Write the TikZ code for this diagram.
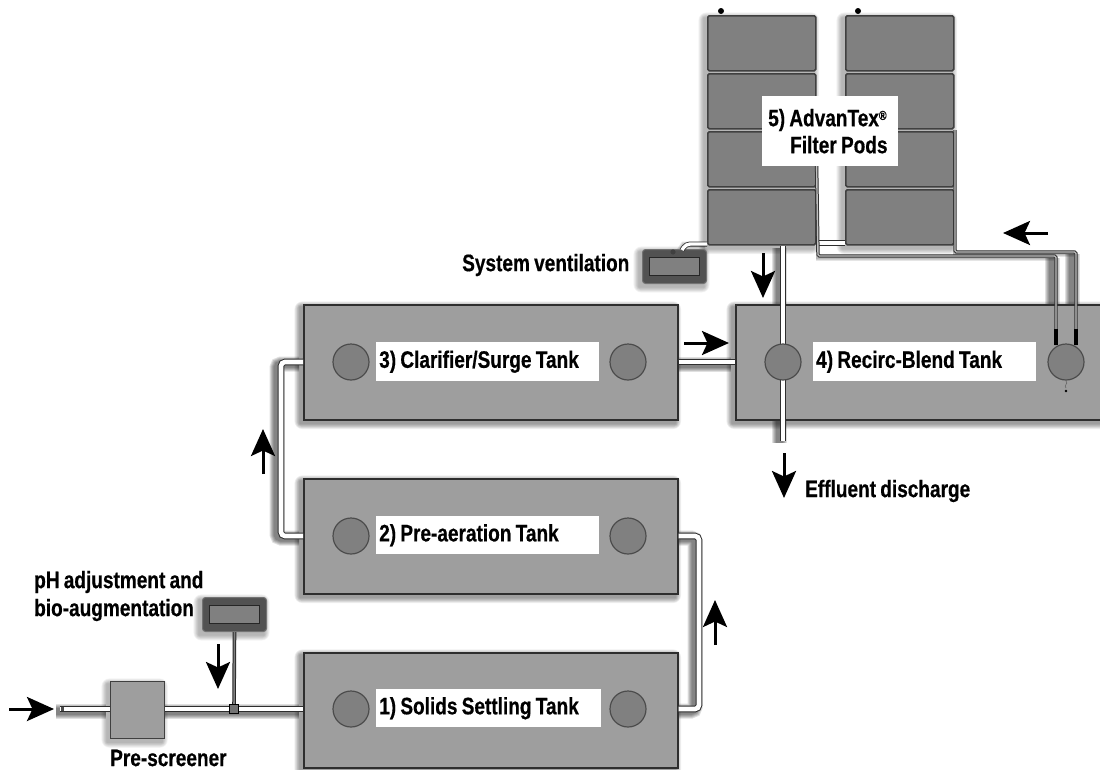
\documentclass[tikz,border=0pt]{standalone}
\usepackage{fontspec}
\setmainfont[FakeStretch=0.8,WordSpace=0.8,BoldFeatures={FakeBold=0.5}]{Liberation Sans}
\usetikzlibrary{calc,arrows.meta}
\pgfdeclarelayer{background}
\pgfsetlayers{background,main}
\definecolor{tankgray}{HTML}{9E9E9E}
\definecolor{darkgray2}{HTML}{808080}
\definecolor{edge}{HTML}{2E2E2E}
\tikzset{
  tank/.style={draw=edge,line width=1.5pt,fill=tankgray,minimum height=115pt,inner sep=0pt,anchor=north west},
  port/.style={circle,draw=black!70,line width=1.2pt,fill=darkgray2,minimum size=36pt,inner sep=0pt},
  tag/.style={fill=white,inner sep=0pt,inner xsep=3pt,align=flush left,font=\bfseries\fontsize{23.8}{27}\selectfont,anchor=north west},
  caption/.style={inner sep=0pt,align=left,font=\bfseries\fontsize{23.8}{28}\selectfont,anchor=west},
  pod/.style={draw=black!75,line width=1.6pt,fill=darkgray2,rounded corners=1.5pt,minimum width=108pt,minimum height=55pt,inner sep=0pt,anchor=north west},
  pipe/.style={draw=edge,line width=1pt,double=white,double distance=4.6pt,rounded corners=4pt},
  thinpipe/.style={draw=black!80,line width=1pt,double=black!25,double distance=1.4pt,rounded corners=1.5pt},
  darkpipe/.style={draw=black!85,line width=1pt,double=black!50,double distance=1.6pt},
  flow/.style={line width=3pt,black,-{Stealth[length=27pt,width=24pt,inset=5.5pt]}},
  panelout/.style={draw=black!55,line width=1pt,fill=black!68,rounded corners=3pt,minimum width=64pt,minimum height=34pt,inner sep=0pt,anchor=north west},
  panelin/.style={draw=black!85,line width=.8pt,fill=darkgray2,minimum width=50pt,minimum height=18pt,inner sep=0pt},
  plainbox/.style={draw=black!75,line width=1.2pt,fill=tankgray,minimum width=54pt,minimum height=57pt,inner sep=0pt,anchor=north west},
}
\newcommand{\softshadow}[3][.055]{%
  \begin{pgfonlayer}{background}
    \foreach \k in {1,...,8}{
      \fill[black,opacity=#1,rounded corners=\k pt]
        ($(#2)+(-3-\k*.7,3-\k*.7)$) rectangle ($(#3)+(-3+\k*.7,3+\k*.7)$);
    }
  \end{pgfonlayer}}
\newcommand{\pipeshadow}[1]{%
  \begin{pgfonlayer}{background}
    \foreach \k in {7,9,...,15}{
      \draw[black,opacity=.12,line width=\k pt,rounded corners=4pt,transform canvas={xshift=-4pt,yshift=-2pt}] #1;
    }
  \end{pgfonlayer}}
\newcommand{\thinshadow}[1]{%
  \begin{pgfonlayer}{background}
    \foreach \k in {3,5,7}{
      \draw[black,opacity=.1,line width=\k pt,transform canvas={xshift=-2pt,yshift=-1pt}] #1;
    }
  \end{pgfonlayer}}
\newcommand{\flowarrow}[5]{%
  \coordinate (#1-a) at (#2,#3);
  \coordinate (#1-b) at (#4,#5);
  \draw[flow] (#1-a) -- (#1-b);}
\begin{document}
\begin{tikzpicture}[x=1pt,y=-1pt]
\useasboundingbox (0,0) rectangle (1100,769);
\clip (0,0) rectangle (1100,769);
\begin{pgfonlayer}{background}
  \fill[white] (0,0) rectangle (1100,769);
\end{pgfonlayer}

% tanks
\node[tank,minimum width=374pt] (t1) at (303,652) {};
\node[tank,minimum width=374pt] (t2) at (303,478) {};
\node[tank,minimum width=374pt] (t3) at (303,304) {};
\node[tank,minimum width=380pt] (t4) at (735,304) {};
\foreach \t in {t1,t2,t3,t4}{\softshadow{\t.north west}{\t.south east}}

% port centres
\coordinate (p1l) at (351,709);  \coordinate (p1r) at (628,709);
\coordinate (p2l) at (351,536);  \coordinate (p2r) at (628,536);
\coordinate (p3l) at (351,362);  \coordinate (p3r) at (628,362);
\coordinate (p4l) at (783,362);  \coordinate (p4r) at (1066,362);

% filter pods
\foreach \i/\yy in {1/15,2/73,3/131,4/189}{
  \node[pod] (pa\i) at (707,\yy) {};
  \node[pod] (pb\i) at (845,\yy) {};
}
\softshadow[.04]{pa1.north west}{pa4.south east}
\softshadow[.04]{pb1.north west}{pb4.south east}
\fill[black] (721,11) circle (3pt);
\fill[black] (858,11) circle (3pt);

% pre-screener and panels
\node[plainbox] (screen) at (110,681) {};
\softshadow[.04]{screen.north west}{screen.south east}
\node[panelout] (chem) at (202,597) {};
\softshadow[.04]{chem.north west}{chem.south east}
\node[panelin] (cheminner) at (chem.center) {};
\node[panelout] (vent) at (642,249) {};
\softshadow[.04]{vent.north west}{vent.south east}
\node[panelin] (ventinner) at (vent.center) {};

% free pipe ends
\coordinate (inlet) at (60,709);
\coordinate (effluent) at (783,441);
\coordinate (tee) at (234,709);
\coordinate (ret) at (1056,345);
\coordinate (sup) at (1076,345);

% process pipes
\newcommand{\ppipe}[1]{\pipeshadow{#1}\draw[pipe] #1;}
\ppipe{(inlet) -- (screen.west |- inlet)}
\ppipe{(screen.east |- inlet) -- (t1.west |- inlet)}
\ppipe{(t1.east |- p1r) -- (699,709) -- (699,536) -- (t2.east |- p2r)}
\ppipe{(t2.west |- p2l) -- (281,536) -- (281,362) -- (t3.west |- p3l)}
\ppipe{(t3.east |- p3r) -- (t4.west |- p4l)}
\ppipe{(p4l |- pa4.south) -- (effluent)}
\draw[pipe] (pa4.east |- 0,243) -- (pb4.west |- 0,243);
\thinshadow{(pa4.west |- 0,244) -- (686,244) -- (682,250)}
\draw[pipe,double distance=3.4pt,line width=.8pt] (pa4.west |- 0,244) -- (686,244) -- (682,250);
\fill[black!75] (673,252) circle (2.6pt);

% recirculation lines
\thinshadow{(818,256) -- (1056,256)}
\thinshadow{(955,252) -- (1076,252)}
\pipeshadow{(1056,256) -- (ret)}
\pipeshadow{(1076,252) -- (sup)}
\draw[thinpipe] (pa3.east |- 0,166) -- (818,256) -- (1056,256) -- (ret);
\draw[thinpipe] (955,130) -- (955,252) -- (1076,252) -- (sup);
\draw[line width=3.2pt,black] (1056,329) -- (ret);
\draw[line width=3.2pt,black] (1076,329) -- (sup);

% chemical feed line
\draw[darkpipe] (cheminner |- chem.south) -- (tee);
\node[draw=black,line width=.8pt,fill=black!55,minimum width=9pt,minimum height=9pt,inner sep=0pt] (teebox) at (tee) {};
\fill[black!70] (inlet) ++(1,-2) rectangle ++(3,4);

% ports
\foreach \p in {p1l,p1r,p2l,p2r,p3l,p3r,p4l,p4r}{
  \node[port] (c\p) at (\p) {};
}
\draw[black!60,line width=.6pt] (1066,381) .. controls (1069,384) and (1063,385) .. (1066,388);
\fill[black] (1066,391) circle (1.3pt);

% tank tags
\node[tag,text width=219pt,minimum height=38pt] (l1) at (376,689) {1) Solids Settling Tank};
\node[tag,text width=217pt,minimum height=38pt] (l2) at (376,516) {2) Pre-aeration Tank};
\node[tag,text width=217pt,minimum height=39pt] (l3) at (376,342) {3) Clarifier/Surge Tank};
\node[tag,text width=217pt,minimum height=39pt] (l4) at (813,342) {4) Recirc-Blend Tank};
\node[tag,inner xsep=6pt,text width=124pt,minimum height=70pt] (l5) at (762,96) {5) AdvanTex\raisebox{.5ex}{\fontsize{13}{13}\selectfont ®}\\[0pt]\hspace*{22pt}Filter Pods};

% captions
\node[caption] (csys) at (462,265) {System ventilation};
\node[caption] (cph) at (34,596) {pH adjustment and\\bio-augmentation};
\node[caption] (cscr) at (110,758) {Pre-screener};
\node[caption] (ceff) at (805,491) {Effluent discharge};

% flow arrows
\flowarrow{f1}{9}{709}{54}{709}
\flowarrow{f2}{218}{644}{218}{689}
\flowarrow{f3}{715}{645}{715}{600}
\flowarrow{f4}{263}{474}{263}{429}
\flowarrow{f5}{684}{343}{729}{343}
\flowarrow{f6}{763}{253}{763}{298}
\flowarrow{f7}{784}{453}{784}{498}
\flowarrow{f8}{1048}{233}{1003}{233}
\end{tikzpicture}
\end{document}
